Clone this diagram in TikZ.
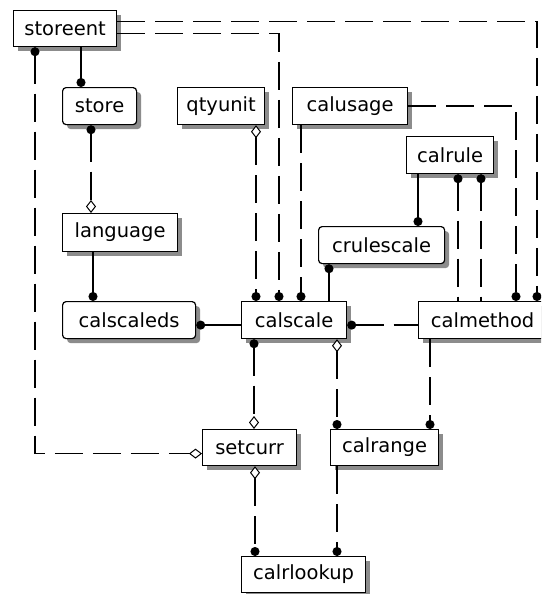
\documentclass[tikz,border=0pt]{standalone}
\usepackage{fontspec}
\setmainfont{DejaVu Sans}
\usetikzlibrary{arrows.meta,shadows}
\tikzset{
  Dt/.tip={Circle[length=9pt]},
  Dm/.tip={Diamond[fill=white,length=13pt,width=10pt,line width=1pt]},
  ent/.style={draw, line width=1.2pt, fill=white, inner sep=0pt, anchor=north west,
    font=\fontsize{19.5}{20}\selectfont,
    drop shadow={shadow xshift=4.5pt,shadow yshift=-4.5pt,fill=black!45,opacity=1}},
  dep/.style={ent, rounded corners=3.5pt},
  idr/.style={line width=1.3pt},
  nid/.style={line width=1.3pt, dash pattern=on 28pt off 10pt},
}
\begin{document}
\begin{tikzpicture}[x=1pt,y=-1pt]
\useasboundingbox (0,0) rectangle (541,594);
\fill[white] (0,0) rectangle (541,594);
\clip (0,0) rectangle (541,594);
% x positions of vertical connectors
\foreach \v in {35,81,91,93,254,255,256,279,301,329,337,418,430,458,481,516,537}
  {\coordinate (c\v) at (\v,0);}
% entities
\node[ent, minimum width=103pt, minimum height=36pt] (storeent) at (13,10) {storeent};
\node[dep, minimum width=74pt, minimum height=37pt] (store) at (62,87) {store};
\node[ent, minimum width=87pt, minimum height=37pt] (qtyunit) at (177,87) {qtyunit};
\node[ent, minimum width=115pt, minimum height=37pt] (calusage) at (292,87) {calusage};
\node[ent, minimum width=87pt, minimum height=37pt] (calrule) at (406,136) {calrule};
\node[ent, minimum width=115pt, minimum height=38pt] (language) at (62,213) {language};
\node[dep, minimum width=126pt, minimum height=37pt] (crulescale) at (318,226) {crulescale};
\node[dep, minimum width=133pt, minimum height=37pt] (calscaleds) at (62,301) {calscaleds};
\node[ent, minimum width=105pt, minimum height=37pt] (calscale) at (241,301) {calscale};
\node[ent, minimum width=128pt, minimum height=37pt] (calmethod) at (418,301) {calmethod};
\node[ent, minimum width=94pt, minimum height=36pt] (setcurr) at (202,429) {setcurr};
\node[ent, minimum width=108pt, minimum height=36pt] (calrange) at (330,429) {calrange};
\node[ent, minimum width=124pt, minimum height=36pt] (calrlookup) at (241,556) {calrlookup};
% relationships
\draw[idr,-Dt] (storeent.south -| c81) -- (store.north -| c81);
\draw[nid,Dt-Dm] (storeent.south -| c35) |- ([yshift=-6pt]setcurr.west);
\draw[nid,-Dt] ([yshift=-5pt]storeent.east) -| (calscale.north -| c279);
\draw[nid,-Dt] ([yshift=7pt]storeent.east) -| (calmethod.north -| c537);
\draw[nid,Dt-Dm] (store.south -| c91) -- (language.north -| c91);
\draw[idr,-Dt] (language.south -| c93) -- (calscaleds.north -| c93);
\draw[nid,Dm-Dt] (qtyunit.south -| c256) -- (calscale.north -| c256);
\draw[nid,-Dt] (calusage.south -| c301) -- (calscale.north -| c301);
\draw[nid,-Dt] (calusage.east) -| (calmethod.north -| c516);
\draw[idr,-Dt] (calrule.south -| c418) -- (crulescale.north -| c418);
\draw[nid,Dt-] (calrule.south -| c458) -- (calmethod.north -| c458);
\draw[nid,Dt-] (calrule.south -| c481) -- (calmethod.north -| c481);
\draw[idr,Dt-] (crulescale.south -| c329) -- (calscale.north -| c329);
\draw[idr,-Dt] ([yshift=-5pt]calscale.west) -- ([yshift=-5pt]calscale.west -| calscaleds.east);
\draw[nid,Dt-] ([yshift=-5pt]calscale.east) -- ([yshift=-5pt]calscale.east -| calmethod.west);
\draw[nid,Dt-Dm] (calscale.south -| c254) -- (setcurr.north -| c254);
\draw[nid,Dm-Dt] (calscale.south -| c337) -- (calrange.north -| c337);
\draw[nid,-Dt] (calmethod.south -| c430) -- (calrange.north -| c430);
\draw[nid,Dm-Dt] (setcurr.south -| c255) -- (calrlookup.north -| c255);
\draw[nid,-Dt] (calrange.south -| c337) -- (calrlookup.north -| c337);
\end{tikzpicture}
\end{document}
